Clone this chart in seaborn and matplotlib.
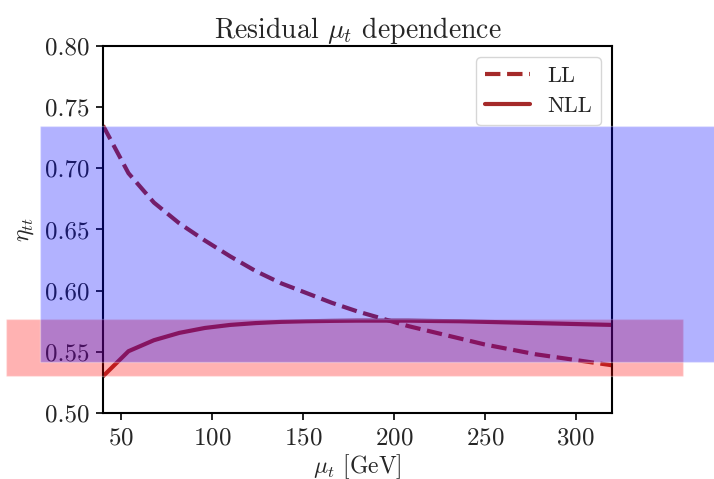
import numpy as np
import pandas as pd
import matplotlib
matplotlib.use("Agg")
import matplotlib.pyplot as plt
import seaborn as sns

# scale mu_t [GeV]
mu_t = [40, 54, 68, 82, 96, 110, 124, 138, 152, 166, 180,
        194, 208, 222, 236, 250, 264, 278, 292, 306, 320]
# eta_tt at leading log
eta_ll = [0.735, 0.696, 0.672, 0.655, 0.641, 0.628, 0.616, 0.606, 0.598, 0.590, 0.583,
          0.577, 0.571, 0.566, 0.561, 0.556, 0.552, 0.548, 0.545, 0.542, 0.539]
# eta_tt at next-to-leading log
eta_nll = [0.530, 0.5505, 0.5595, 0.5655, 0.5695, 0.5720, 0.5735, 0.5745, 0.5750, 0.5753, 0.5755,
           0.5755, 0.5755, 0.5752, 0.5750, 0.5745, 0.5740, 0.5735, 0.5730, 0.5725, 0.5720]

# residual bands (ymin, ymax)
band_ll = (0.5416, 0.7346)
band_nll = (0.5302, 0.5768)

sns.set_theme(style="ticks")
plt.rcParams["font.family"] = "serif"
plt.rcParams["font.serif"] = ["cmr10", "DejaVu Serif"]
plt.rcParams["mathtext.fontset"] = "cm"
plt.rcParams["axes.unicode_minus"] = False
plt.rcParams["axes.formatter.use_mathtext"] = True

df = pd.DataFrame({"mu_t": mu_t, "LL": eta_ll, "NLL": eta_nll})

fig = plt.figure(figsize=(7.14, 4.79), dpi=100)
ax = fig.add_axes([0.1443, 0.1378, 0.7129, 0.7662])

sns.lineplot(data=df, x="mu_t", y="LL", ax=ax, color="brown", lw=3,
             linestyle="--", label="LL")
sns.lineplot(data=df, x="mu_t", y="NLL", ax=ax, color="brown", lw=3,
             label="NLL")

ax.set_xlim(40, 320)
ax.set_ylim(0.50, 0.80)
ax.set_xticks([50, 100, 150, 200, 250, 300])
ax.set_yticks(np.arange(0.50, 0.801, 0.05))
ax.set_yticklabels(["0.50", "0.55", "0.60", "0.65", "0.70", "0.75", "0.80"])
ax.tick_params(labelsize=18, length=5, width=1.2, color="black", pad=5)
for s in ax.spines.values():
    s.set_color("black")
    s.set_linewidth(1.5)

ax.set_title(r"Residual $\mu_t$ dependence", fontsize=20)
ax.set_xlabel(r"$\mu_t$ [GeV]", fontsize=17, labelpad=2)
ax.set_ylabel(r"$\eta_{tt}$", fontsize=17, labelpad=6)

leg = ax.legend(loc="upper right", fontsize=16, frameon=True, framealpha=0.8,
                fancybox=True)

# bands sit on top of everything and stick out of the axes
ax.axhspan(*band_nll, xmin=-0.19, xmax=1.14, facecolor="red", edgecolor="white",
           lw=1, alpha=0.3, clip_on=False, zorder=10)
ax.axhspan(*band_ll, xmin=-0.124, xmax=1.3, facecolor="blue", edgecolor="white",
           lw=1, alpha=0.3, clip_on=False, zorder=11)

fig.savefig("out.png", dpi=100)
